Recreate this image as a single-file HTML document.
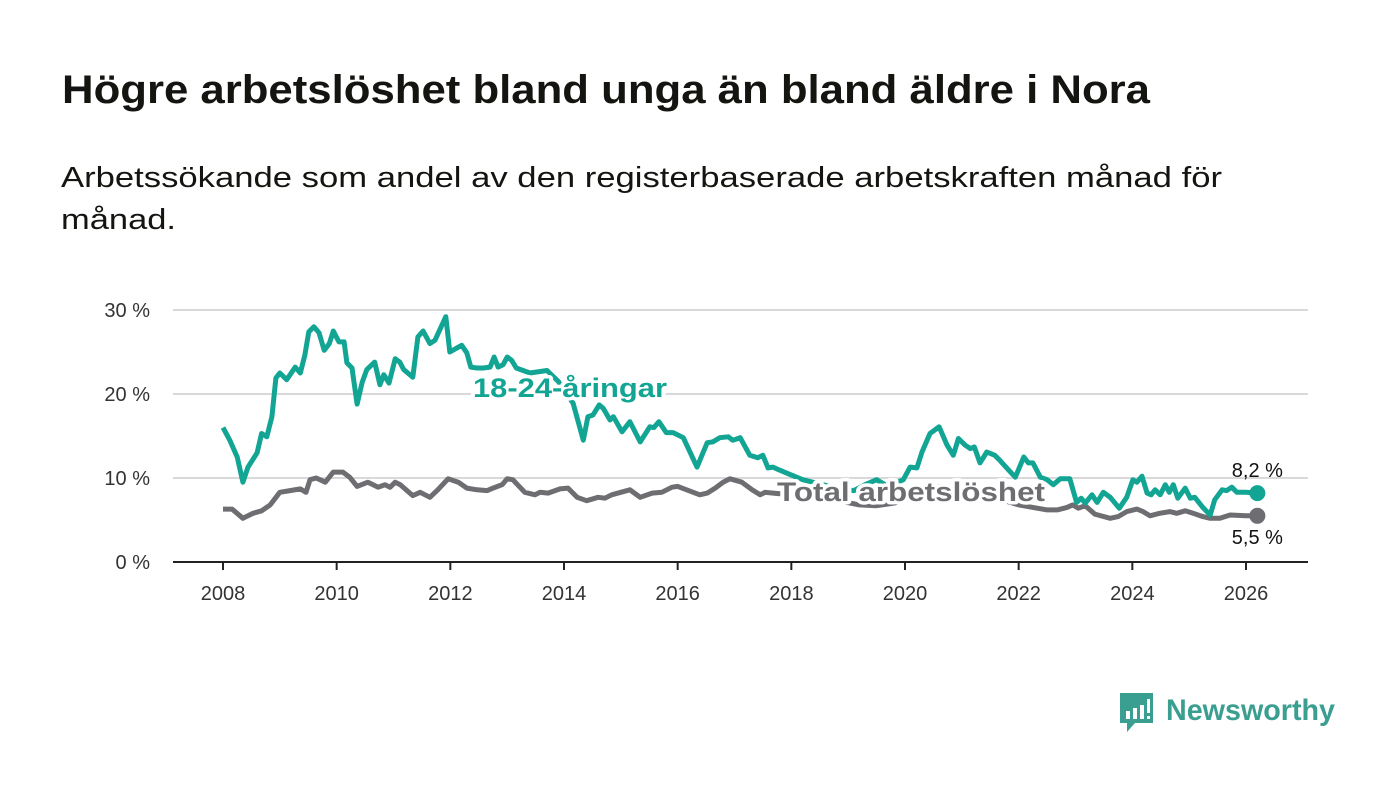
<!DOCTYPE html>
<html><head><meta charset="utf-8"><style>
html,body{margin:0;padding:0;background:#fff;}
svg{display:block;font-family:"Liberation Sans","DejaVu Sans",sans-serif;}
</style></head><body>
<svg width="1400" height="794" viewBox="0 0 1400 794" id="svg">
<text x="62" y="103" font-size="40" font-weight="bold" fill="#141410" textLength="1088" lengthAdjust="spacingAndGlyphs">Högre arbetslöshet bland unga än bland äldre i Nora</text>
<text x="61" y="187" font-size="29" fill="#141410" textLength="1161" lengthAdjust="spacingAndGlyphs">Arbetssökande som andel av den registerbaserade arbetskraften månad för</text>
<text x="61" y="229" font-size="29" fill="#141410" textLength="115" lengthAdjust="spacingAndGlyphs">månad.</text>
<g id="grid"></g>
<g id="axes"></g>
<g id="series"></g>
<g>
<path d="M1120 693 h33 v30 h-18 l-8 9 v-9 h-7 z" fill="#3a9e91"/>
<rect x="1126" y="711" width="4" height="8" fill="#fff"/><rect x="1133" y="708" width="4" height="11" fill="#fff"/><rect x="1140" y="705" width="4" height="14" fill="#fff"/><rect x="1147" y="699" width="3" height="14" fill="#fff"/><rect x="1147" y="716" width="3" height="3" fill="#fff"/>
<text x="1166" y="720" font-size="30" font-weight="bold" fill="#3a9e91" textLength="169" lengthAdjust="spacingAndGlyphs">Newsworthy</text>
</g>
</svg>
<script>
const yTicks=[0,10,20,30];
const yTickLabels=["0 %","10 %","20 %","30 %"];
const xTicks=[2008,2010,2012,2014,2016,2018,2020,2022,2024,2026];
const youthDates=[2008.0,2008.12,2008.25,2008.35,2008.44,2008.6,2008.68,2008.77,2008.86,2008.93,2009.0,2009.12,2009.27,2009.36,2009.44,2009.51,2009.6,2009.69,2009.78,2009.87,2009.94,2010.04,2010.13,2010.18,2010.27,2010.36,2010.45,2010.53,2010.67,2010.76,2010.83,2010.92,2011.03,2011.11,2011.18,2011.34,2011.43,2011.52,2011.64,2011.73,2011.92,2011.99,2012.12,2012.2,2012.29,2012.36,2012.47,2012.58,2012.7,2012.77,2012.84,2012.93,2013.0,2013.08,2013.16,2013.4,2013.7,2013.9,2014.16,2014.34,2014.42,2014.51,2014.62,2014.69,2014.81,2014.87,2015.02,2015.16,2015.34,2015.51,2015.58,2015.67,2015.8,2015.92,2016.1,2016.34,2016.52,2016.62,2016.74,2016.89,2016.97,2017.1,2017.27,2017.41,2017.5,2017.59,2017.68,2017.77,2017.98,2018.2,2018.5,2018.8,2019.1,2019.3,2019.5,2019.7,2019.97,2020.09,2020.21,2020.3,2020.44,2020.6,2020.74,2020.85,2020.94,2021.06,2021.15,2021.22,2021.32,2021.44,2021.58,2021.67,2021.79,2021.94,2022.09,2022.17,2022.25,2022.38,2022.5,2022.61,2022.73,2022.9,2023.02,2023.1,2023.17,2023.29,2023.38,2023.49,2023.61,2023.77,2023.9,2024.01,2024.08,2024.17,2024.26,2024.33,2024.4,2024.49,2024.58,2024.65,2024.72,2024.8,2024.93,2025.02,2025.1,2025.24,2025.37,2025.45,2025.58,2025.66,2025.75,2025.84,2026.0,2026.2];
const youthValues=[16.0,14.5,12.5,9.5,11.3,13,15.3,14.9,17.3,21.9,22.5,21.7,23.2,22.5,24.6,27.4,28,27.3,25.2,26,27.5,26.2,26.2,23.7,23.1,18.8,21.4,22.9,23.8,21.1,22.3,21.3,24.2,23.8,22.9,22,26.8,27.5,26,26.4,29.2,25,25.5,25.8,24.9,23.2,23.1,23.1,23.2,24.4,23.2,23.5,24.4,24,23.1,22.5,22.8,21.5,18.9,14.5,17.3,17.5,18.7,18.3,16.9,17.3,15.5,16.7,14.3,16.1,16,16.7,15.4,15.4,14.8,11.3,14.2,14.3,14.8,14.9,14.5,14.8,12.7,12.4,12.7,11.2,11.3,11,10.4,9.8,9.3,8.8,8.5,9.2,9.8,9.0,9.8,11.3,11.2,13.1,15.3,16.1,13.9,12.7,14.7,13.9,13.5,13.7,11.8,13.1,12.7,12.1,11.2,10.1,12.5,11.8,11.8,10.1,9.8,9.2,9.9,9.9,7.1,7.6,7,8,7.1,8.3,7.7,6.4,7.7,9.8,9.5,10.2,8.2,8,8.6,8,9.2,8.3,9.2,7.6,8.8,7.6,7.7,6.5,5.6,7.4,8.6,8.5,8.9,8.3,8.3,8.2];
const totalDates=[2008.0,2008.16,2008.35,2008.53,2008.68,2008.83,2009.0,2009.18,2009.36,2009.46,2009.53,2009.64,2009.8,2009.94,2010.11,2010.23,2010.36,2010.55,2010.73,2010.85,2010.94,2011.03,2011.12,2011.34,2011.47,2011.64,2011.78,2011.96,2012.14,2012.29,2012.47,2012.65,2012.75,2012.91,2013.0,2013.1,2013.31,2013.49,2013.58,2013.72,2013.93,2014.07,2014.23,2014.4,2014.6,2014.72,2014.84,2015.16,2015.34,2015.55,2015.72,2015.9,2016.0,2016.39,2016.52,2016.66,2016.8,2016.92,2017.13,2017.31,2017.45,2017.54,2017.68,2018.0,2018.3,2018.6,2018.9,2019.2,2019.5,2019.8,2020.1,2020.35,2020.6,2020.9,2021.2,2021.5,2021.8,2022.0,2022.25,2022.5,2022.68,2022.85,2022.95,2023.05,2023.17,2023.34,2023.61,2023.75,2023.9,2024.08,2024.19,2024.31,2024.48,2024.66,2024.78,2024.93,2025.07,2025.24,2025.37,2025.54,2025.72,2026.0,2026.2];
const totalValues=[6.3,6.3,5.2,5.8,6.1,6.8,8.3,8.5,8.7,8.3,9.8,10,9.5,10.7,10.7,10.1,9,9.5,8.9,9.2,8.9,9.5,9.2,7.9,8.3,7.7,8.6,9.9,9.5,8.8,8.6,8.5,8.8,9.2,9.9,9.8,8.3,8,8.3,8.2,8.7,8.8,7.7,7.3,7.7,7.6,8,8.6,7.7,8.2,8.3,8.9,9,8,8.2,8.8,9.5,9.9,9.5,8.6,8,8.3,8.2,8.0,7.8,7.5,7.2,6.8,6.7,7.0,7.6,8.5,9.0,8.6,8.3,7.8,7.2,6.8,6.5,6.2,6.2,6.5,6.8,6.4,6.7,5.7,5.2,5.4,6,6.3,6,5.5,5.8,6,5.8,6.1,5.8,5.4,5.2,5.2,5.6,5.5,5.5];
const seriesLabels=["18-24-åringar","Total arbetslöshet"];
const endLabels=["8,2 %","5,5 %"];

const NS="http://www.w3.org/2000/svg";
const X0=173,X1=1308;
function xs(t){return 223+(t-2008)*(1023/18);}
function ys(v){return 562-v*8.4;}
function mk(tag,attrs,parent){const e=document.createElementNS(NS,tag);for(const k in attrs)e.setAttribute(k,attrs[k]);parent.appendChild(e);return e;}
const grid=document.getElementById('grid'),axes=document.getElementById('axes'),series=document.getElementById('series');
yTicks.forEach((v,i)=>{
  if(v>0){const l=mk('line',{x1:X0,x2:X1,y1:ys(v),y2:ys(v),stroke:'#d9d9d9','stroke-width':2},grid);
  
  }
  const t=mk('text',{x:150,y:ys(v)+7,'text-anchor':'end','font-size':20,fill:'#333'},axes);
  t.textContent=yTickLabels[i];
  
  
});
const ax=mk('line',{x1:X0,x2:X1,y1:562,y2:562,stroke:'#222','stroke-width':2},axes);


xTicks.forEach(y=>{
  const tk=mk('line',{x1:xs(y),x2:xs(y),y1:562,y2:570,stroke:'#222','stroke-width':2},axes);
  
  
  const t=mk('text',{x:xs(y),y:600,'text-anchor':'middle','font-size':20,fill:'#333'},axes);
  t.textContent=y;
  
  
});
function path(d,v){return d.map((t,i)=>(i?'L':'M')+xs(t).toFixed(1)+' '+ys(v[i]).toFixed(1)).join(' ');}
const teal='#12a594',gray='#6d6d72';
const pT=mk('path',{d:path(totalDates,totalValues),fill:'none',stroke:gray,'stroke-width':5,'stroke-linejoin':'round'},series);


const pY=mk('path',{d:path(youthDates,youthValues),fill:'none',stroke:teal,'stroke-width':5,'stroke-linejoin':'round'},series);


const lY=mk('text',{x:473,y:397,'font-size':27,'font-weight':'bold',fill:teal,stroke:'#fff','stroke-width':7,'paint-order':'stroke','stroke-linejoin':'round',textLength:194,lengthAdjust:'spacingAndGlyphs'},series);
lY.textContent=seriesLabels[0];


const lT=mk('text',{x:777,y:501,'font-size':27,'font-weight':'bold',fill:gray,stroke:'#fff','stroke-width':7,'paint-order':'stroke','stroke-linejoin':'round',textLength:268,lengthAdjust:'spacingAndGlyphs'},series);
lT.textContent=seriesLabels[1];


const lastY=youthDates.length-1,lastT=totalDates.length-1;
const dY=mk('circle',{cx:xs(youthDates[lastY]),cy:ys(youthValues[lastY]),r:8,fill:teal},series);


const dT=mk('circle',{cx:xs(totalDates[lastT]),cy:ys(totalValues[lastT]),r:8,fill:gray},series);


const eY=mk('text',{x:xs(youthDates[lastY]),y:ys(youthValues[lastY])-16,'text-anchor':'middle','font-size':20,fill:'#111'},series);
eY.textContent=endLabels[0];


const eT=mk('text',{x:xs(totalDates[lastT]),y:ys(totalValues[lastT])+28,'text-anchor':'middle','font-size':20,fill:'#111'},series);
eT.textContent=endLabels[1];


</script>
</body></html>
